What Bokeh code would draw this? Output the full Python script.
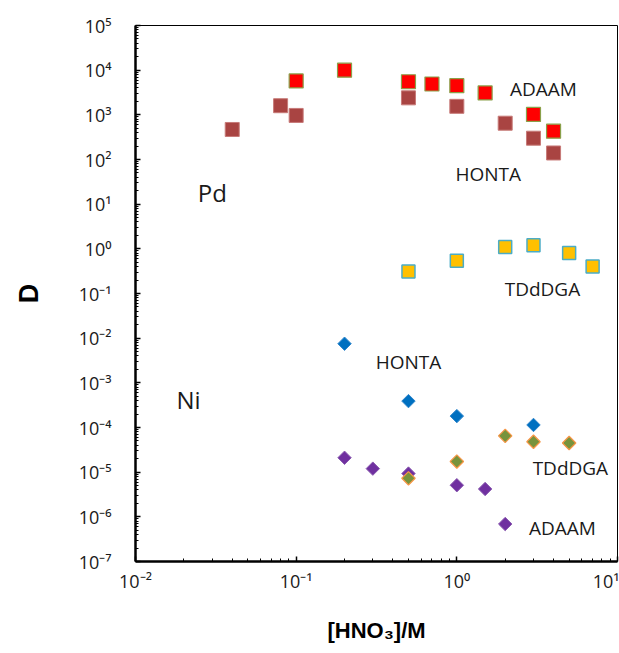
import math
from bokeh.plotting import figure
from bokeh.models import FixedTicker, CustomJSTickFormatter
from bokeh.core.properties import value
from bokeh.embed import file_html
from bokeh.resources import INLINE

# ---- data ----
x_pd_adaam = [0.1, 0.2, 0.5, 0.7, 1.0, 1.5, 3.0, 4.0]
d_pd_adaam = [5750, 10000, 5500, 4900, 4500, 3100, 1020, 430]

x_pd_honta = [0.04, 0.08, 0.1, 0.5, 1.0, 2.0, 3.0, 4.0]
d_pd_honta = [470, 1600, 970, 2400, 1550, 650, 300, 140]

x_pd_tddga = [0.5, 1.0, 2.0, 3.0, 5.0, 7.0]
d_pd_tddga = [0.31, 0.54, 1.1, 1.2, 0.81, 0.40]

x_ni_honta = [0.2, 0.5, 1.0, 3.0]
d_ni_honta = [0.0075, 3.9e-4, 1.8e-4, 1.14e-4]

x_ni_tddga = [0.5, 1.0, 2.0, 3.0, 5.0]
d_ni_tddga = [7.3e-6, 1.73e-5, 6.5e-5, 4.8e-5, 4.5e-5]

x_ni_adaam = [0.2, 0.3, 0.5, 1.0, 1.5, 2.0]
d_ni_adaam = [2.1e-5, 1.2e-5, 9.3e-6, 5.1e-6, 4.2e-6, 6.9e-7]

x_ticks = [0.01, 0.1, 1, 10]
x_tick_labels = ["10⁻²", "10⁻¹", "10⁰", "10¹"]
y_ticks = [1e-7, 1e-6, 1e-5, 1e-4, 1e-3, 1e-2, 1e-1, 1, 10, 100, 1e3, 1e4, 1e5]
y_tick_labels = ["10⁻⁷", "10⁻⁶", "10⁻⁵", "10⁻⁴", "10⁻³", "10⁻²", "10⁻¹",
                 "10⁰", "10¹", "10²", "10³", "10⁴", "10⁵"]

# series labels (annotations)
lab_small_text = ["ADAAM", "HONTA", "TDdDGA", "HONTA", "TDdDGA", "ADAAM"]
lab_small_x = [3.46, 1.57, 3.41, 0.5, 5.09, 4.54]
lab_small_y = [3830, 47.7, 0.123, 0.00297, 1.21e-5, 5.66e-7]
lab_big_text = ["Pd", "Ni"]
lab_big_x = [0.0301, 0.0214]
lab_big_y = [18.2, 4.28e-4]

p = figure(width=619, height=645, x_axis_type="log", y_axis_type="log",
           x_range=(0.01, 10), y_range=(1e-7, 1e5),
           output_backend="svg", toolbar_location=None,
           min_border_left=135, min_border_right=2,
           min_border_top=25, min_border_bottom=78)

p.grid.visible = False
p.outline_line_color = "black"
p.outline_line_width = 1
p.background_fill_color = "white"
p.border_fill_color = "white"

def minors(lo, hi):
    out = []
    for k in range(lo, hi):
        for m in range(2, 10):
            out.append(m * 10.0 ** k)
    return out

code = """
let best = 0, bd = Infinity;
const lt = Math.log10(tick);
for (let i = 0; i < vals.length; i++) {
  const d = Math.abs(lt - Math.log10(vals[i]));
  if (d < bd) { bd = d; best = i; }
}
return labs[best];
"""
p.xaxis.ticker = FixedTicker(ticks=x_ticks, minor_ticks=minors(-2, 1))
p.yaxis.ticker = FixedTicker(ticks=y_ticks, minor_ticks=minors(-7, 5))
p.xaxis.formatter = CustomJSTickFormatter(args=dict(vals=x_ticks, labs=x_tick_labels), code=code)
p.yaxis.formatter = CustomJSTickFormatter(args=dict(vals=y_ticks, labs=y_tick_labels), code=code)

for ax in (p.xaxis, p.yaxis):
    ax.axis_line_width = 2.5
    ax.axis_line_color = "black"
    ax.major_tick_in = 5
    ax.major_tick_out = 0
    ax.minor_tick_in = 3
    ax.minor_tick_out = 0
    ax.major_tick_line_width = 1.5
    ax.major_tick_line_color = "black"
    ax.minor_tick_line_color = "black"
    ax.major_label_text_font = "Open Sans"
    ax.major_label_text_font_size = "18px"
    ax.major_label_text_color = "#1a1a1a"
    ax.axis_label_text_font = "Liberation Sans"
    ax.axis_label_text_font_style = "bold"
    ax.axis_label_text_color = "black"

p.yaxis.major_label_standoff = 24
p.xaxis.major_label_standoff = 7
p.yaxis.axis_label = "D"
p.yaxis.axis_label_text_font_size = "27px"
p.yaxis.axis_label_standoff = 32
p.xaxis.axis_label = "[HNO₃]/M"
p.xaxis.axis_label_text_font_size = "22px"
p.xaxis.axis_label_standoff = 22

# Pd series
p.scatter(x_pd_honta, d_pd_honta, marker="square", size=14,
          fill_color="#a94442", line_color="#c77a78", line_width=1)
p.scatter(x_pd_adaam, d_pd_adaam, marker="square", size=14,
          fill_color="#ff0000", line_color="#8aa04a", line_width=1.2)
p.scatter(x_pd_tddga, d_pd_tddga, marker="square", size=13,
          fill_color="#ffc000", line_color="#4bacc6", line_width=1.5)

# Ni series (diamonds = rotated squares)
p.scatter(x_ni_honta, d_ni_honta, marker="square", size=9.5, angle=math.pi / 4,
          fill_color="#0070c0", line_color="#2f86cc", line_width=1)
p.scatter(x_ni_adaam, d_ni_adaam, marker="square", size=9.5, angle=math.pi / 4,
          fill_color="#7030a0", line_color="#8a5bb0", line_width=1)
p.scatter(x_ni_tddga, d_ni_tddga, marker="square", size=9.5, angle=math.pi / 4,
          fill_color="#77933c", line_color="#f79646", line_width=1.2)

p.text(x=lab_small_x, y=lab_small_y, text=lab_small_text,
       text_font=value("Open Sans"), text_font_size="19px", text_color="#1a1a1a",
       text_align="center", text_baseline="middle")
p.text(x=lab_big_x, y=lab_big_y, text=lab_big_text,
       text_font=value("Open Sans"), text_font_size="24px", text_color="#1a1a1a",
       text_align="center", text_baseline="middle")

open("out.html", "w").write(file_html(p, INLINE))
